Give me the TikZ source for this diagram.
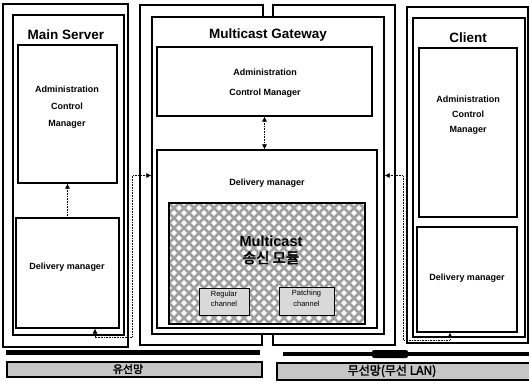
\documentclass[tikz,border=0pt]{standalone}
\usepackage{fontspec}
\setmainfont{Liberation Sans}
\newfontfamily\kr{Noto Sans CJK KR}[AutoFakeBold=2.5]
\usetikzlibrary{fit,arrows.meta}

\begin{document}
\begin{tikzpicture}[x=1pt,y=-1pt,
  frame/.style={draw,line width=1.3pt,inner sep=0pt},
  box/.style={draw,line width=1.1pt,inner sep=0pt},
  chan/.style={draw,line width=1pt,inner sep=0pt,fill=gray!30,align=center,
    font=\fontsize{7.5}{10.5}\selectfont},
  band/.style={draw,line width=1.4pt,inner sep=0pt,fill=gray!45},
  title/.style={font=\fontsize{13.5}{16}\selectfont\bfseries},
  txt/.style={align=center,font=\fontsize{9}{16}\selectfont\bfseries},
  mesh/.style={line width=2.5pt,gray!75},
  link/.style={densely dotted,line width=0.6pt,>={Latex[length=5pt,width=5pt]}}]
\useasboundingbox (0,0) rectangle (529,390);

% main server
\node[frame,fit={(3,4) (128,347)}] (msout) {};
\node[box,fit={(13,15) (124,335)}] (msin) {};
\node[box,fit={(18,45) (117,183)}] (msacm) {};
\node[box,fit={(16,218) (119,328)}] (msdm) {};
\node[title] (mstitle) at (66,35) {Main Server};
\node[txt] (msacmtxt) at (67,107) {Administration\\[1pt]Control\\[1pt]Manager};
\node[txt] (msdmtxt) at (67,267) {Delivery manager};
\draw[link,->] (msdm) -- (msacm);

% gateway, split outer frame
\draw[line width=1.3pt] (263,17) -- (263,5) -- (140,5) -- (140,345) -- (262,345) -- (262,334);
\draw[line width=1.3pt] (273,17) -- (273,5) -- (395,5) -- (395,345) -- (273,345) -- (273,334);
\node[box,fit={(152,17) (384,334)}] (gwin) {};
\node[box,fit={(157,47) (372,116)}] (gwacm) {};
\node[box,fit={(157,150) (377,328)}] (gwdm) {};
\node[title] (gwtitle) at (268,35) {Multicast Gateway};
\node[txt] (gwacmtxt) at (265,83) {Administration\\[4pt]Control Manager};
\node[txt] (gwdmtxt) at (267,183) {Delivery manager};
\draw[link,<->] (gwacm.south) -- (gwacm.south |- gwdm.north);

\begin{scope}
 \clip (169,203) rectangle (365,324);
 \fill[white] (169,203) rectangle (365,324);
 \foreach \i in {-130,-120,...,330} {
  \draw[mesh] (169+\i,203) -- ++(130,130);
  \draw[mesh] (169+\i,203) -- ++(-130,130);
 }
\end{scope}
\node[box,fit={(169,203) (365,324)}] (mcast) {};
\node[align=center,font=\fontsize{14.5}{17}\selectfont\bfseries] (mcasttxt) at (271,250)
  {Multicast\\{\kr 송신 모듈}};
\node[chan,fit={(199,288) (249,315)}] (regular) {Regular\\channel};
\node[chan,fit={(279,287) (334,315)}] (patching) {Patching\\channel};

% client
\node[frame,fit={(407,7) (528,343)}] (clout) {};
\node[box,fit={(413,18) (525,337)}] (clin) {};
\node[box,fit={(419,48) (517,217)}] (clacm) {};
\node[box,fit={(417,227) (517,332)}] (cldm) {};
\node[title] (cltitle) at (468,38) {Client};
\node[txt] (clacmtxt) at (468,115) {Administration\\[-1pt]Control\\[-1pt]Manager};
\node[txt] (cldmtxt) at (467,278) {Delivery manager};

% links down to the two networks
\coordinate (wired1) at (95,337);
\coordinate (wired2) at (132,337);
\draw[link,<->] (msdm.south -| wired1) -- (wired1) -- (wired2) |- (gwin.west);
\coordinate (wless1) at (403,340);
\coordinate (wless2) at (450,340);
\draw[link,<->] (gwin.east) -| (wless1) -- (wless2) -- (cldm.south -| wless2);

% network bars
\fill (6,350) rectangle (260,355);
\fill (283,352) rectangle (529,356);
\fill[rounded corners=2pt] (372,350) rectangle (408,358);
\node[band,fit={(7,362) (262,377)}] (wired) {};
\node[band,fit={(277,363) (531,380)}] (wless) {};
\node[font=\kr\bfseries\fontsize{11}{13}\selectfont] (wiredtxt) at (128,369) {유선망};
\node[font=\kr\bfseries\fontsize{12}{14}\selectfont] (wlesstxt) at (392,371) {무선망(무선 LAN)};
\end{tikzpicture}
\end{document}
